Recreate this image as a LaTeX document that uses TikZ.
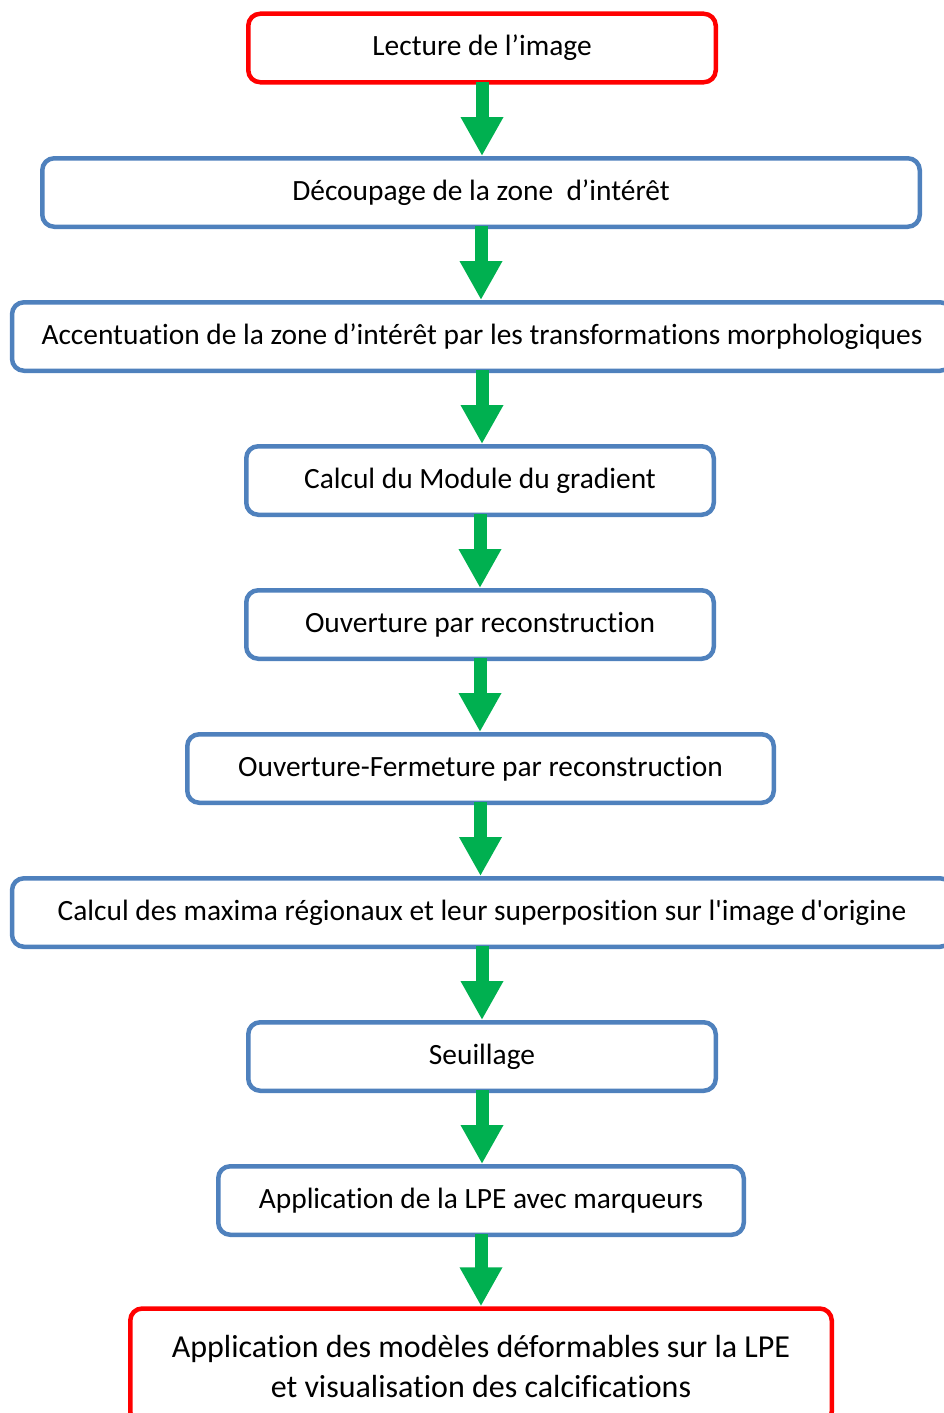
\documentclass[tikz,border=0pt]{standalone}
\usepackage{fontspec}
\setmainfont{Carlito}[Ligatures={TeX,NoCommon}]
\usepackage{tikz}
\usetikzlibrary{arrows.meta}
\usepackage{xcolor}
\definecolor{stepblue}{RGB}{79,129,189}
\definecolor{stepred}{RGB}{255,0,0}
\definecolor{flowgreen}{RGB}{0,176,80}

\begin{document}
\begin{tikzpicture}[x=1pt,y=-1pt,
  box/.style={draw=stepblue,line width=4.5pt,rounded corners=12pt,fill=white,align=center,
    minimum height=68.5pt,inner sep=0pt,font=\fontsize{29.4}{40}\selectfont},
  endbox/.style={box,draw=stepred},
  flow/.style={draw=flowgreen,line width=13pt,-{Triangle[width=40pt,length=39pt]}}]
\useasboundingbox (0,0) rectangle (943,1413);
\node[endbox,minimum width=467.5pt] (lect) at (482,48) {Lecture de l’image};
\node[box,minimum width=877.5pt] (dec) at (481,192.5) {Découpage de la zone\ \ d’intérêt};
\node[box,minimum width=940pt] (acc) at (482,336.5) {Accentuation de la zone d’intérêt par les transformations morphologiques};
\node[box,minimum width=467.5pt] (grad) at (480,480.5) {Calcul du Module du gradient};
\node[box,minimum width=467.5pt] (ouv) at (480,624.5) {Ouverture par reconstruction};
\node[box,minimum width=586.5pt] (ouvf) at (480.5,768.5) {Ouverture-Fermeture par reconstruction};
\node[box,minimum width=940pt] (max) at (482,912.5) {Calcul des maxima régionaux et leur superposition sur l\textquotesingle image d\textquotesingle origine};
\node[box,minimum width=467.5pt] (seuil) at (482,1056.5) {Seuillage};
\node[box,minimum width=525.5pt] (lpe) at (481,1200.5) {Application de la LPE avec marqueurs};
\node[endbox,minimum width=701.5pt,minimum height=115pt,font=\fontsize{32}{40}\selectfont] (defo) at (481,1366) {Application des modèles déformables sur la LPE\\et visualisation des calcifications};
% green arrows between the steps
\foreach \a/\b in {lect/dec,dec/acc,acc/grad,grad/ouv,ouv/ouvf,ouvf/max,max/seuil,seuil/lpe,lpe/defo}
  \draw[flow] ([yshift=3pt]\a.south) -- (\a.south |- \b.north);
\end{tikzpicture}
\end{document}
